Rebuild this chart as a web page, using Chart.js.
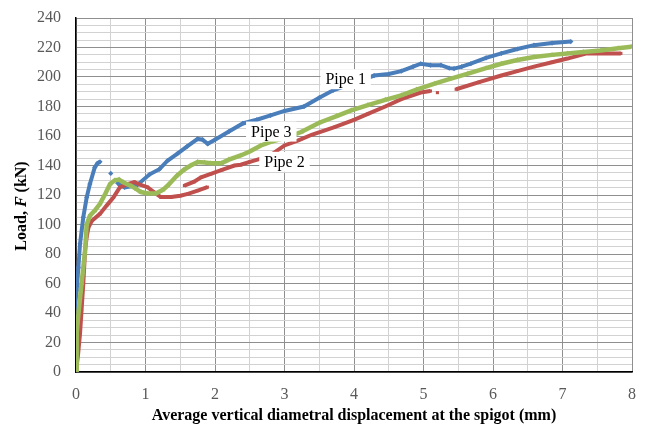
<!DOCTYPE html>
<html>
<head>
<meta charset="utf-8">
<script src="https://cdn.jsdelivr.net/npm/chart.js@4/dist/chart.umd.min.js"></script>
<style>
  body { margin: 0; background: #fff; }
  #wrap { width: 645px; height: 425px; position: relative; }
</style>
</head>
<body>
<div id="wrap"><canvas id="chart"></canvas></div>
<script>
// values (x: displacement mm, y: load kN); null = break in the record
const pipe1X = [0, -0.04, -0.03, 0.01, 0.034, 0.058, 0.105, 0.154, 0.2, 0.27, 0.31, 0.345, null,
  0.5, null,
  0.6, 0.7, 0.87, 1.06, 1.2, 1.32, 1.46, 1.6, 1.75, 1.82, 1.895, 2.0, 2.2, 2.4, 2.6, 2.8, 3.0, 3.28, 3.5, 3.7,
  4.0, 4.29, 4.5, 4.68, 4.85, 4.96, 5.1, 5.25, 5.37, 5.44, 5.55, 5.68, 5.9, 6.12, 6.35, 6.59, 6.85, 7.12];
const pipe1Y = [0, 14.7, 37, 55.3, 71, 86.9, 104.9, 118.4, 127.5, 138.7, 141.5, 142.5, null,
  134.6, null,
  128, 125.2, 126.3, 134, 137.5, 143.4, 148, 153, 158, 157.5, 154.7, 157.5, 163, 168.5, 171, 174, 177, 180, 186, 191,
  196, 201, 202, 204, 207, 209, 208, 208, 206, 205.7, 207, 209, 213, 216, 219, 221.6, 223, 224];

const pipe2X = [0, 0.03, 0.058, 0.08, 0.105, 0.13, 0.155, 0.18, 0.23, 0.345, 0.44, 0.54, 0.63, 0.75, 0.84, 0.92,
  1.03, 1.12, 1.22, 1.37, 1.5, 1.61, 1.75, 1.89, null,
  1.56, 1.7, 1.8, 1.94, 2.1, 2.28, 2.37, 2.5, 2.66, 2.8, 3.0, 3.2, 3.4, 3.72, 4.0, 4.2, 4.45, 4.68, 4.96, 5.1, null,
  5.2, null,
  5.47, 5.8, 6.12, 6.35, 6.59, 6.85, 7.07, 7.35, 7.6, 7.84];
const pipe2Y = [0, 12, 26, 42, 60, 82, 92, 98, 102.6, 107.2, 112.8, 118.4, 125.2, 127.5, 128.7, 127,
  125.3, 122, 118.6, 118.6, 119.5, 120.8, 123, 125.3, null,
  126.4, 129, 132, 134.3, 137, 140, 140.5, 142.5, 144.6, 147, 153.6, 157, 161, 166, 171, 175, 180, 185, 189.5, 190.5, null,
  189.4, null,
  191.7, 196.5, 201, 204, 207, 210, 212.5, 216, 216, 216];

const pipe3X = [0, 0.01, 0.04, 0.08, 0.13, 0.154, 0.2, 0.27, 0.345, 0.42, 0.49, 0.56, 0.62, 0.68, 0.8, 0.87, 0.935,
  1.03, 1.15, 1.25, 1.32, 1.45, 1.55, 1.65, 1.75, 1.85, 1.94, 2.09, 2.2, 2.37, 2.5, 2.66, 2.8, 3.0, 3.24, 3.5, 3.75,
  3.96, 4.2, 4.45, 4.68, 4.9, 5.16, 5.37, 5.64, 5.9, 6.12, 6.35, 6.59, 6.85, 7.07, 7.3, 7.55, 7.8, 7.99];
const pipe3Y = [0, 26, 42, 60, 82, 100, 106, 109.4, 114, 120.7, 127.5, 130, 130.5, 128.6, 126, 124, 122,
  121, 121, 123.5, 126.4, 133, 137, 140, 142.3, 142, 141.5, 141.5, 144, 146.8, 149.5, 153.6, 156, 158.5, 162.7, 169, 173.5,
  177.4, 181, 184.5, 187.6, 191.5, 195.5, 198.5, 202.3, 206, 209, 211.5, 213.6, 215, 216, 217, 218, 219.5, 220.5];

const seriesNames = ['Pipe 1', 'Pipe 2', 'Pipe 3'];
// where each series name is written, in data units
const labelX = [3.88, 3.0, 2.81];
const labelY = [198.5, 142.5, 163];

const xTicks = [0, 1, 2, 3, 4, 5, 6, 7, 8];
const yTicks = [0, 20, 40, 60, 80, 100, 120, 140, 160, 180, 200, 220, 240];

const serif = "'Liberation Serif', 'DejaVu Serif', serif";

function toPoints(xs, ys) {
  let lastX = 0;
  return xs.map((x, i) => {
    if (x === null) return { x: lastX, y: null };
    lastX = x;
    return { x: x, y: ys[i] };
  });
}

const seriesLabels = {
  id: 'seriesLabels',
  afterDatasetsDraw(chart) {
    const ctx = chart.ctx;
    const xs = chart.scales.x, ys = chart.scales.y;
    ctx.save();
    ctx.font = '16px ' + serif;
    ctx.textAlign = 'center';
    ctx.textBaseline = 'middle';
    seriesNames.forEach((name, i) => {
      const px = xs.getPixelForValue(labelX[i]);
      const py = ys.getPixelForValue(labelY[i]);
      const w = ctx.measureText(name).width + 10;
      ctx.fillStyle = '#fff';
      ctx.fillRect(px - w / 2, py - 10, w, 20);
      ctx.fillStyle = '#000';
      ctx.fillText(name, px, py + 1);
    });
    ctx.restore();
  }
};

const yTitle = {
  id: 'yTitle',
  afterDraw(chart) {
    const ctx = chart.ctx;
    const parts = [['bold 16px ', 'Load, '], ['italic bold 16px ', 'F'], ['bold 16px ', ' (kN)']];
    ctx.save();
    let total = 0;
    parts.forEach(p => { ctx.font = p[0] + serif; total += ctx.measureText(p[1]).width; });
    ctx.translate(22, 206);
    ctx.rotate(-Math.PI / 2);
    ctx.textBaseline = 'middle';
    ctx.fillStyle = '#000';
    let pos = -total / 2;
    parts.forEach(p => {
      ctx.font = p[0] + serif;
      ctx.fillText(p[1], pos, 0);
      pos += ctx.measureText(p[1]).width;
    });
    ctx.restore();
  }
};

const ctx = document.getElementById('chart').getContext('2d');
new Chart(ctx, {
  type: 'scatter',
  data: {
    datasets: [
      {
        label: seriesNames[0], data: toPoints(pipe1X, pipe1Y),
        borderColor: '#4a7ebb', backgroundColor: '#4a7ebb',
        pointStyle: 'rectRot', pointRadius: 2.6, borderWidth: 4
      },
      {
        label: seriesNames[1], data: toPoints(pipe2X, pipe2Y),
        borderColor: '#c0504d', backgroundColor: '#c0504d',
        pointStyle: 'rect', pointRadius: 2.2, borderWidth: 4
      },
      {
        label: seriesNames[2], data: toPoints(pipe3X, pipe3Y),
        borderColor: '#9bbb59', backgroundColor: '#9bbb59',
        pointStyle: 'triangle', pointRadius: 3, borderWidth: 4.5
      }
    ].map(d => Object.assign(d, { showLine: true, spanGaps: false, pointBorderWidth: 0, pointHoverRadius: 0 })).reverse()
  },
  options: {
    responsive: true,
    maintainAspectRatio: false,
    animation: false,
    events: [],
    layout: { padding: { left: 0, right: 13, top: 18, bottom: 0 } },
    plugins: { legend: { display: false }, tooltip: { enabled: false } },
    scales: {
      x: {
        type: 'linear', min: 0, max: 8,
        afterBuildTicks: s => {
          s.ticks = [];
          for (let v = 0; v <= 16; v++) s.ticks.push({ value: v / 2 });
        },
        afterFit: s => { s.height = 53; s.paddingLeft = 0; s.paddingRight = 0; },
        ticks: {
          autoSkip: false, maxRotation: 0, padding: 13,
          color: '#595959', font: { family: serif, size: 16 },
          callback: v => xTicks.includes(v) ? String(v) : ''
        },
        grid: {
          drawTicks: false,
          color: c => (c.tick && Number.isInteger(c.tick.value)) ? '#8f8f8f' : '#d2d2d2',
          lineWidth: 1
        },
        border: { color: '#000', width: 1.5 },
        title: {
          display: true,
          text: 'Average vertical diametral displacement at the spigot (mm)',
          color: '#000', font: { family: serif, size: 16, weight: 'bold' },
          padding: { top: 0, bottom: 0 }
        }
      },
      y: {
        type: 'linear', min: 0, max: 240,
        afterBuildTicks: s => {
          s.ticks = [];
          for (let v = 0; v <= 240; v += 5) s.ticks.push({ value: v });
        },
        afterFit: s => { s.width = 76; s.paddingTop = 0; s.paddingBottom = 0; },
        ticks: {
          autoSkip: false, padding: 15,
          color: '#595959', font: { family: serif, size: 16 },
          callback: v => yTicks.includes(v) ? String(v) : ''
        },
        grid: {
          drawTicks: false,
          color: c => (c.tick && c.tick.value % 20 === 0) ? '#8f8f8f' : '#d2d2d2',
          lineWidth: 1
        },
        border: { color: '#000', width: 1.5 }
      }
    }
  },
  plugins: [seriesLabels, yTitle]
});
</script>
</body>
</html>
